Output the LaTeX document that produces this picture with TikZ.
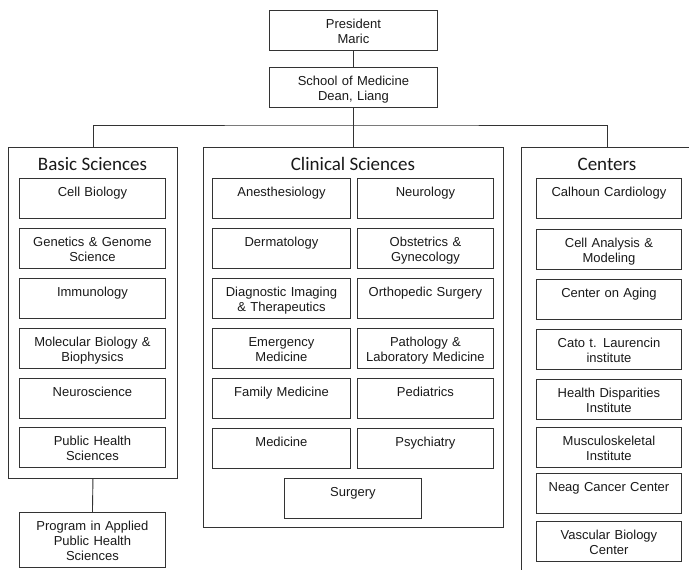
\documentclass[tikz,border=0pt]{standalone}
\usepackage{fontspec}
\setmainfont{Liberation Sans}
\newfontfamily\headfont{Carlito}
\usetikzlibrary{calc}

\begin{document}
\begin{tikzpicture}[x=1pt, y=-1pt,
  unit/.style={draw=black!80, line width=0.9pt, inner xsep=0pt, inner ysep=0pt,
    text width=#1, align=center, text=black!90, font=\fontsize{13}{15}\selectfont,
    text height=18pt, text depth=22pt, anchor=north west},
  group/.style={draw=black!80, line width=0.9pt, inner sep=0pt, anchor=north west},
  head/.style={font=\headfont\fontsize{19}{22}\selectfont, text=black!90, anchor=base},
  link/.style={draw=black!80, line width=0.9pt}]

\useasboundingbox (0,0) rectangle (689,570);
\clip (0,0) rectangle (689,570);

\node[unit=168pt] (president) at (269,10) {President\\Maric};
\node[unit=168pt] (dean) at (269,67) {School of Medicine\\Dean, Liang};

\node[group, minimum width=169pt, minimum height=331pt] (basic) at (8,147) {};
\node[group, minimum width=300pt, minimum height=380pt] (clinical) at (203,147) {};
\node[group, minimum width=172pt, minimum height=440pt] (centers) at (521,147) {};

\node[head] (basic-t) at (92.5,170) {Basic Sciences};
\node[head] (clinical-t) at (353,170) {Clinical Sciences};
\node[head] (centers-t) at (607,170) {Centers};

\foreach \y/\lbl [count=\i] in {178/Cell Biology, 228/{Genetics \& Genome\\Science},
    278/Immunology, 328/{Molecular Biology \&\\Biophysics}, 378/Neuroscience,
    427/{Public Health\\Sciences}}
{
  \node[unit=146pt] (basic-\i) at (19,\y) {\lbl};
}

\foreach \y/\lbl [count=\i] in {178/Anesthesiology, 228/Dermatology,
    278/{Diagnostic Imaging\\\& Therapeutics}, 328/{Emergency\\Medicine},
    378/Family Medicine, 428/Medicine}
{
  \node[unit=138pt] (clin-l\i) at (212,\y) {\lbl};
}

\foreach \y/\lbl [count=\i] in {178/Neurology, 228/{Obstetrics \&\\Gynecology},
    278/Orthopedic Surgery, 328/{Pathology \&\\Laboratory Medicine},
    378/Pediatrics, 428/Psychiatry}
{
  \node[unit=136pt] (clin-r\i) at (357,\y) {\lbl};
}

\node[unit=137pt] (surgery) at (284,478) {Surgery};

\foreach \y/\lbl [count=\i] in {178/Calhoun Cardiology, 229/{Cell Analysis \&\\Modeling},
    279/Center on Aging, 329/{Cato t. Laurencin\\institute},
    379/{Health Disparities\\Institute}, 427/{Musculoskeletal\\Institute},
    473/Neag Cancer Center, 521/{Vascular Biology\\Center}}
{
  \node[unit=145pt] (center-\i) at (536,\y) {\lbl};
}

\node[unit=146pt, text depth=37pt] (program) at (19,512) {Program in Applied\\Public Health\\Sciences};

\coordinate (bar) at (353,125);
\draw[link] (president.south) -- (dean.north);
\draw[link] (dean.south) -- (clinical.north);
\draw[link] (basic.north) |- (bar) -| (centers.north);
\draw[link] (basic.south) -- (program.north);

\end{tikzpicture}
\end{document}
